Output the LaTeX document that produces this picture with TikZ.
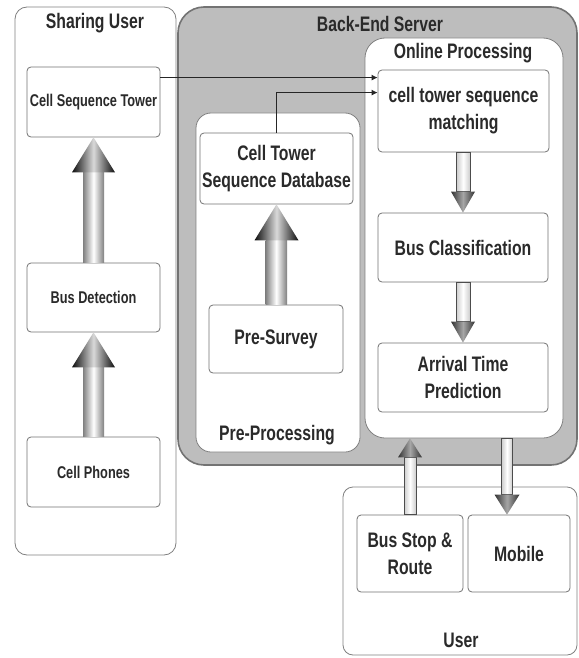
\documentclass[tikz,border=0pt]{standalone}
\usepackage{fontspec}
\setmainfont[FakeStretch=0.75]{Liberation Sans}
\usetikzlibrary{arrows.meta,calc}
\definecolor{bgray}{HTML}{BDBDBD}
\definecolor{txt}{HTML}{2A2A2A}
\tikzset{
  cont/.style={draw=black!50, fill=white, line width=0.8pt, rounded corners=#1},
  cont/.default=12pt,
  box/.style={draw=black!55, fill=white, rounded corners=4pt, line width=0.8pt,
    align=center, inner sep=0pt, text=txt, font=\fontsize{21}{27}\selectfont\bfseries},
  sbox/.style={box, font=\fontsize{17}{21}\selectfont\bfseries},
  lbl/.style={text=txt, font=\fontsize{21}{24}\selectfont\bfseries, inner sep=0pt},
  conn/.style={draw=black!85, line width=0.9pt, -{Latex[length=6pt,width=6pt]}},
  bigshaft/.style={left color=black!50, right color=black!50, middle color=white},
  bighead/.style={left color=black!95, right color=black!95, middle color=black!15},
  smallshaft/.style={draw=black!70, line width=0.6pt, left color=black!20, right color=black!20, middle color=white},
  smallhead/.style={left color=black!80, right color=black!80, middle color=black!35},
}
% #1 from, #2 to (same x), #3 half shaft, #4 half head, #5 head length (+ = arrow points up), #6 prefix
\newcommand\blockarrow[6]{%
  \path[#6shaft] ($(#1)+(-#3,0)$) rectangle ($(#2)+(#3,#5)$);
  \path[#6head] ($(#2)+(-#4,#5)$) -- (#2) -- ($(#2)+(#4,#5)$) -- cycle;
}
\begin{document}
\begin{tikzpicture}[x=1pt,y=-1pt]
\useasboundingbox (0,0) rectangle (578,658);

% containers
\node[cont=12pt, minimum width=161pt, minimum height=548pt] (su) at (95.5,281) {};
\node[draw=black!55, fill=bgray, line width=1.6pt, rounded corners=26pt,
      minimum width=399pt, minimum height=458pt] (be) at (377.5,236) {};
\node[cont=15pt, minimum width=164pt, minimum height=339pt] (pp) at (278,282.5) {};
\node[cont=20pt, minimum width=198pt, minimum height=400pt] (op) at (464,238) {};
\node[cont=10pt, minimum width=234pt, minimum height=168pt] (us) at (460,571) {};

% container labels
\node[lbl] (sul) at (95,23) {Sharing User};
\node[lbl] (bel) at (380,24) {Back-End Server};
\node[lbl] (opl) at (463,53) {Online Processing};
\node[lbl] (ppl) at (277,435) {Pre-Processing};
\node[lbl] (usl) at (461,640) {User};

% boxes
\node[sbox, minimum width=133pt, minimum height=70pt] (cst) at (93.5,102) {Cell Sequence Tower};
\node[sbox, minimum width=133pt, minimum height=69pt] (bd) at (93.5,297.5) {Bus Detection};
\node[sbox, minimum width=133pt, minimum height=70pt] (cp) at (93.5,472) {Cell Phones};

\node[box, minimum width=153pt, minimum height=71pt] (db) at (276.5,168.5) {Cell Tower\\Sequence Database};
\node[box, minimum width=134pt, minimum height=68pt] (ps) at (276,339) {Pre-Survey};

\node[box, minimum width=171pt, minimum height=82pt] (ctm) at (463.5,111) {cell tower sequence\\matching};
\node[box, minimum width=170pt, minimum height=69pt] (bc) at (463,247.5) {Bus Classification};
\node[box, minimum width=170pt, minimum height=69pt] (atp) at (463,377.5) {Arrival Time\\Prediction};

\node[box, minimum width=106pt, minimum height=77pt] (bsr) at (410,553.5) {Bus Stop \&\\Route};
\node[box, minimum width=102pt, minimum height=77pt] (mob) at (519,553.5) {Mobile};

% helper coordinates for arrows
\coordinate (a1) at (bd.north);   \coordinate (a2) at (cst.south);
\coordinate (b1) at (cp.north);   \coordinate (b2) at (bd.south);
\coordinate (c1) at (ps.north);   \coordinate (c2) at (db.south);
\coordinate (d1) at (ctm.south);  \coordinate (d2) at (bc.north);
\coordinate (e1) at (bc.south);   \coordinate (e2) at (atp.north);
\coordinate (f1) at (bsr.north);  \coordinate (f2) at (bsr.north |- op.south);
\coordinate (g2) at ($(mob.north)+(-12,0)$);
\coordinate (g1) at (g2 |- op.south);

% big arrows
\blockarrow{a1}{a2}{10.5}{21.5}{35}{big}
\blockarrow{b1}{b2}{10.5}{21.5}{35}{big}
\blockarrow{c1}{c2}{10.5}{22}{36}{big}

% small arrows
\blockarrow{d1}{d2}{7}{12}{-21}{small}
\blockarrow{e1}{e2}{7}{12}{-21}{small}
\blockarrow{f1}{f2}{6}{12}{19}{small}
\blockarrow{g1}{g2}{5.5}{12.5}{-20}{small}

% connectors
\coordinate (s1) at ($(cst.north east)+(0,11)$);
\draw[conn] (s1) -- (s1 -| ctm.west);
\draw[conn] (db.north) |- ($(ctm.north west)+(0,23)$);
\end{tikzpicture}
\end{document}
